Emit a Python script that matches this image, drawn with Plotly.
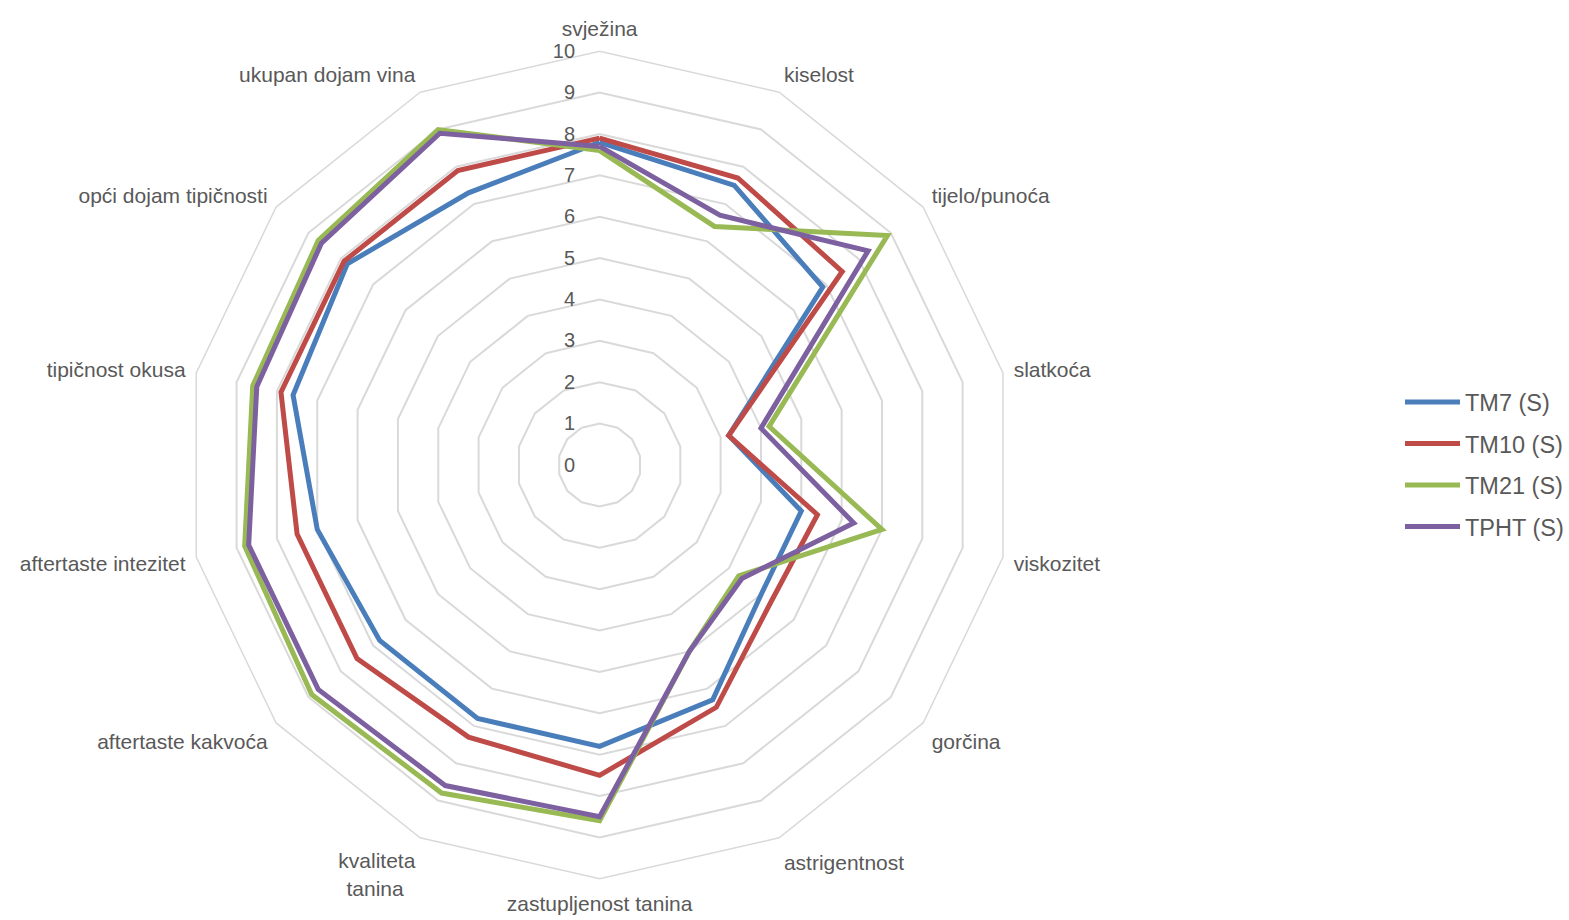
import plotly.graph_objects as go

categories = ["svježina", "kiselost", "tijelo/punoća", "slatkoća", "viskozitet", "gorčina",
              "astrigentnost", "zastupljenost tanina", "kvaliteta<br>tanina\u00a0\u00a0", "aftertaste kakvoća",
              "aftertaste intezitet", "tipičnost okusa", "opći dojam tipičnosti", "ukupan dojam vina"]

tm7 = [7.8, 7.5, 6.9, 3.2, 5.0, 5.0, 6.3, 6.8, 6.8, 6.8, 7.0, 7.6, 7.8, 7.3]
tm10 = [7.9, 7.7, 7.5, 3.2, 5.4, 5.3, 6.5, 7.5, 7.3, 7.5, 7.5, 7.9, 7.9, 7.9]
tm21 = [7.6, 6.4, 8.9, 4.2, 7.0, 4.3, 5.0, 8.6, 8.8, 8.9, 8.8, 8.6, 8.7, 9.0]
tpht = [7.7, 6.7, 8.3, 4.0, 6.3, 4.4, 5.0, 8.5, 8.6, 8.7, 8.7, 8.5, 8.6, 8.9]

series_names = ["TM7 (S)", "TM10 (S)", "TM21 (S)", "TPHT (S)"]
series_values = [tm7, tm10, tm21, tpht]
series_colors = ["#4A7EBB", "#BE4B48", "#98B954", "#7D60A0"]

fig = go.Figure()
for name, vals, col in zip(series_names, series_values, series_colors):
    fig.add_trace(go.Scatterpolar(
        r=vals + vals[:1],
        theta=categories + categories[:1],
        mode="lines",
        name=name,
        legendgroup=name,
        line=dict(color=col, width=5),
    ))

font_family = "Liberation Sans, Arial, sans-serif"
fig.update_layout(
    width=1569, height=920,
    margin=dict(l=0, r=0, t=0, b=0),
    paper_bgcolor="white",
    plot_bgcolor="white",
    font=dict(family=font_family, color="#595959"),
    polar=dict(
        domain=dict(x=[600 / 1569 - 414 / 1569, 600 / 1569 + 414 / 1569],
                    y=[(920 - 465 - 414) / 920, (920 - 465 + 414) / 920]),
        gridshape="linear",
        bgcolor="white",
        radialaxis=dict(
            range=[0, 10], dtick=1, tick0=0,
            showline=False, angle=90, side="counterclockwise", tickangle=90,
            gridcolor="#D9D9D9", gridwidth=1.5,
            tickfont=dict(size=20, color="#595959", family=font_family),
            ticks="outside", ticklen=17, tickcolor="rgba(0,0,0,0)",
        ),
        angularaxis=dict(
            rotation=90, direction="clockwise",
            showgrid=False, showline=True, linecolor="#D9D9D9", linewidth=1.5,
            tickfont=dict(size=21, color="#595959", family=font_family),
            ticks="outside", ticklen=6, tickcolor="rgba(0,0,0,0)",
        ),
    ),
    legend=dict(
        x=0.893, y=0.495, xanchor="left", yanchor="middle",
        font=dict(size=23.5, color="#595959", family=font_family),
        tracegroupgap=8, itemwidth=55,
        bgcolor="rgba(0,0,0,0)",
    ),
    showlegend=True,
)

fig.write_html("out.html", config={"displayModeBar": False},
               post_script="document.body.style.margin='0';document.body.style.overflow='hidden';")
